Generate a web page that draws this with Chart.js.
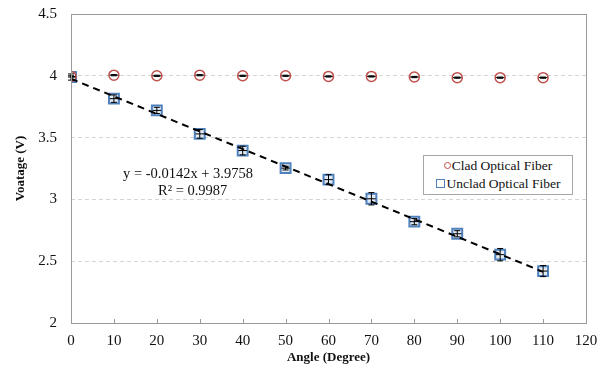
<!DOCTYPE html>
<html>
<head>
<meta charset="utf-8">
<script src="https://cdn.jsdelivr.net/npm/chart.js@4"></script>
<style>
  body { margin: 0; background: #fff; }
  #wrap { position: relative; width: 608px; height: 372px; }
  .note { position: absolute; font-family: 'Liberation Serif', serif; color: #111; white-space: nowrap; }
  #legend { position: absolute; left: 423px; top: 155px; width: 148px; height: 37px; border: 1px solid #a6a6a6; background: #fff;
            font-family: 'Liberation Serif', serif; font-size: 13.5px; color: #111; text-align: center; line-height: 18px; padding-top: 1px; }
  .sym-c { display: inline-block; width: 5px; height: 5px; border: 1px solid #c0504d; border-radius: 50%; margin-right: 1px; vertical-align: 1px; }
  .sym-s { display: inline-block; width: 7px; height: 7px; border: 1px solid #4f81bd; margin-right: 2px; vertical-align: 0px; }
</style>
</head>
<body>
<div id="wrap">
  <canvas id="fiberChart" width="608" height="372"></canvas>
  <div class="note" style="left:123px; top:165px; font-size:14.5px;">y = -0.0142x + 3.9758</div>
  <div class="note" style="left:158px; top:182px; font-size:14.5px;">R² = 0.9987</div>
  <div id="legend">
    <div><span class="sym-c"></span>Clad Optical Fiber</div>
    <div><span class="sym-s"></span>Unclad Optical Fiber</div>
  </div>
</div>
<script>
// angle in degrees
const angles = [0, 10, 20, 30, 40, 50, 60, 70, 80, 90, 100, 110];

const cladVoltage = [3.995, 4.005, 4.0, 4.005, 4.0, 4.0, 3.995, 3.995, 3.99, 3.985, 3.985, 3.985];
const cladErr = [0.005, 0.005, 0.005, 0.005, 0.005, 0.005, 0.005, 0.005, 0.005, 0.005, 0.005, 0.005];

const uncladVoltage = [3.99, 3.815, 3.72, 3.53, 3.395, 3.253, 3.16, 3.005, 2.82, 2.722, 2.553, 2.42];
const uncladErr = [0.025, 0.03, 0.025, 0.035, 0.035, 0.015, 0.04, 0.05, 0.025, 0.025, 0.05, 0.045];

const angleErr = 1;

// linear fit of unclad data: y = -0.0142x + 3.9758
const trendAngles = [0, 110];
const trendVoltage = [3.9758, 2.4138];

const xTicks = [0, 10, 20, 30, 40, 50, 60, 70, 80, 90, 100, 110, 120];

const toPoints = (xs, ys) => xs.map((x, i) => ({ x: x, y: ys[i] }));

// error bars, plot frame and inner tick marks
const extrasPlugin = {
    id: 'extras',
    afterDatasetsDraw(chart) {
        const ctx = chart.ctx;
        const xs = chart.scales.x, ys = chart.scales.y;
        chart.data.datasets.forEach((ds, di) => {
            if (!ds.yErr) return;
            ctx.save();
            ctx.strokeStyle = '#000';
            ctx.lineWidth = 1;
            ds.data.forEach((p, i) => {
                const px = xs.getPixelForValue(p.x);
                const py = ys.getPixelForValue(p.y);
                const top = ys.getPixelForValue(p.y + ds.yErr[i]);
                const bot = ys.getPixelForValue(p.y - ds.yErr[i]);
                const left = xs.getPixelForValue(p.x - ds.xErr);
                const right = xs.getPixelForValue(p.x + ds.xErr);
                ctx.beginPath();
                ctx.moveTo(px, top); ctx.lineTo(px, bot);
                ctx.moveTo(px - 3, top); ctx.lineTo(px + 3, top);
                ctx.moveTo(px - 3, bot); ctx.lineTo(px + 3, bot);
                ctx.moveTo(Math.max(left, chart.chartArea.left), py); ctx.lineTo(right, py);
                ctx.stroke();
            });
            ctx.restore();
        });
    },
    afterDraw(chart) {
        const { ctx, chartArea: a } = chart;
        const xs = chart.scales.x;
        ctx.save();
        ctx.strokeStyle = '#9a9a9a';
        ctx.lineWidth = 1;
        ctx.strokeRect(Math.round(a.left) + 0.5, Math.round(a.top) + 0.5, Math.round(a.right - a.left), Math.round(a.bottom - a.top));
        ctx.beginPath();
        xTicks.forEach(t => {
            const px = Math.round(xs.getPixelForValue(t)) + 0.5;
            ctx.moveTo(px, a.bottom);
            ctx.lineTo(px, a.bottom - 4);
        });
        ctx.stroke();
        ctx.restore();
    }
};

const fiberConfig = {
    type: 'scatter',
    data: {
        datasets: [
            {
                label: 'Clad Optical Fiber',
                data: toPoints(angles, cladVoltage),
                yErr: cladErr,
                xErr: angleErr,
                pointStyle: 'circle',
                pointRadius: 5,
                pointBorderWidth: 1.5,
                borderColor: '#c0504d',
                backgroundColor: 'rgba(255, 255, 255, 0.6)',
                order: 2
            },
            {
                label: 'Unclad Optical Fiber',
                data: toPoints(angles, uncladVoltage),
                yErr: uncladErr,
                xErr: angleErr,
                pointStyle: 'rect',
                pointRadius: 7,
                pointBorderWidth: 2,
                borderColor: '#4f81bd',
                backgroundColor: 'rgba(219, 229, 241, 0.8)',
                order: 3
            },
            {
                label: 'Linear (Unclad)',
                type: 'line',
                data: toPoints(trendAngles, trendVoltage),
                borderColor: '#000',
                borderWidth: 2,
                borderDash: [7, 5],
                pointRadius: 0,
                fill: false,
                order: 1
            }
        ]
    },
    options: {
        responsive: false,
        animation: false,
        events: [],
        layout: { padding: { left: 0, right: 22, top: 14, bottom: 0 } },
        plugins: {
            legend: { display: false },
            tooltip: { enabled: false }
        },
        scales: {
            x: {
                type: 'linear',
                min: 0,
                max: 120,
                afterBuildTicks: (scale) => { scale.ticks = xTicks.map(v => ({ value: v })); },
                afterFit: (scale) => { scale.height = 49; scale.paddingLeft = 0; scale.paddingRight = 0; },
                grid: { display: false, drawTicks: false },
                border: { display: false },
                ticks: {
                    padding: 9,
                    color: '#111',
                    font: { family: 'Liberation Serif', size: 15 }
                },
                title: {
                    display: true,
                    text: 'Angle (Degree)',
                    color: '#111',
                    padding: { top: 0, bottom: 7 },
                    font: { family: 'Liberation Serif', size: 13, weight: 'bold' }
                }
            },
            y: {
                min: 2,
                max: 4.5,
                afterFit: (scale) => { scale.width = 71; scale.paddingTop = 0; scale.paddingBottom = 0; },
                grid: { color: '#d4d4d4', drawTicks: false },
                border: { display: false, dash: [4, 3] },
                ticks: {
                    stepSize: 0.5,
                    padding: 14,
                    color: '#111',
                    font: { family: 'Liberation Serif', size: 15 },
                    callback: (value) => String(value)
                },
                title: {
                    display: true,
                    text: 'Voatage (V)',
                    color: '#111',
                    padding: { top: 13, bottom: 0 },
                    font: { family: 'Liberation Serif', size: 13, weight: 'bold' }
                }
            }
        }
    },
    plugins: [extrasPlugin]
};

const fiberChart = new Chart(
    document.getElementById('fiberChart'),
    fiberConfig
);
</script>
</body>
</html>
